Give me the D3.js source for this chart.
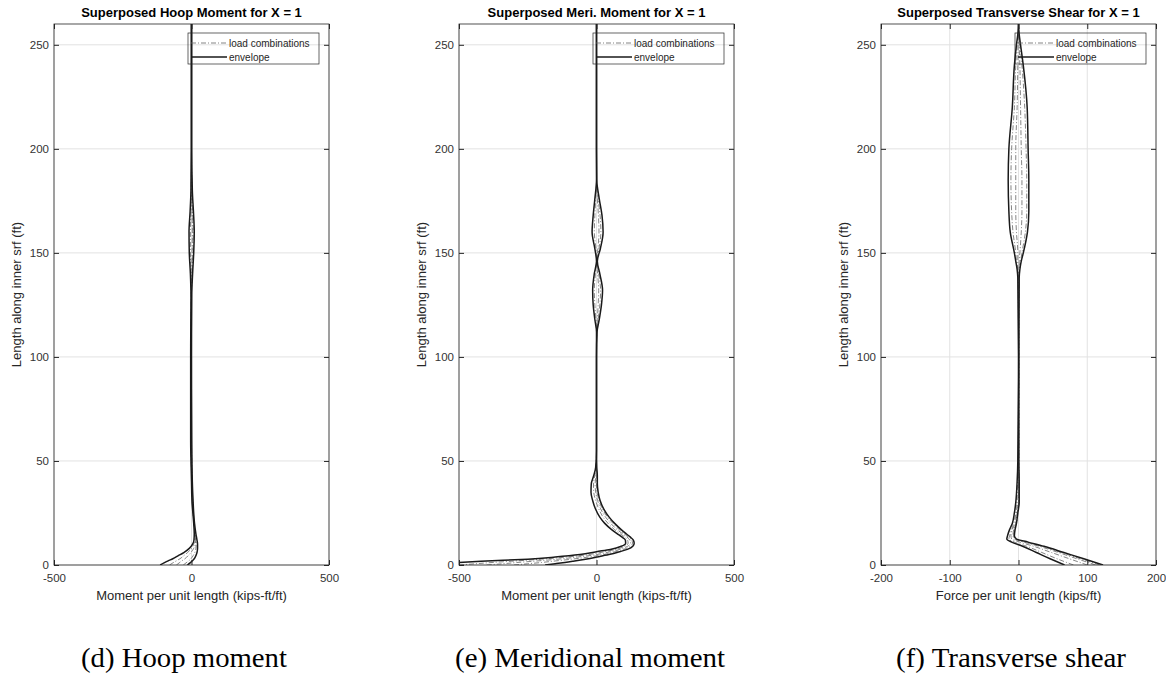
<!DOCTYPE html>
<html>
<head>
<meta charset="utf-8">
<script src="https://cdn.jsdelivr.net/npm/d3@7"></script>
<style>
  body { margin: 0; background: #fff; }
  svg { display: block; }
  .tick text { font-family: "Liberation Sans", Arial, sans-serif; font-size: 11.5px; fill: #333; }
</style>
</head>
<body>
<div></div>
<script>
const width = 1166;
const height = 674;

// heights along inner surface (ft) and values for each curve
const hoopLen = [0, 1, 2, 3, 4.5, 6, 8, 10, 12, 15, 20, 25, 30, 40, 60, 100, 130, 140, 150, 160, 170, 180, 200, 260];
const hoopEnvMin = [-114, -100, -85, -68, -48, -28, -8, 4, 9, 10, 8, 5, 2, 0, -3, -3, -2, -4, -8, -9, -5, -2, -1, -1];
const hoopEnvMax = [-15, -5, 3, 10, 16, 20, 22, 22, 20, 16, 11, 8, 6, 3, 1, 0, 1, 4, 8, 10, 7, 3, 1, 1];
const hoopCombo1 = [-80, -68, -55, -42, -28, -14, 0, 8, 12, 12, 9, 6, 3, 1, -2, -2, -1, -2, -4, -4, -2, -1, 0, 0];
const hoopCombo2 = [-55, -45, -35, -24, -12, -2, 8, 14, 15, 13, 9, 6, 4, 2, 0, -1, 0, 1, 2, 3, 2, 1, 0, 0];
const hoopCombo3 = [-30, -20, -10, -2, 6, 12, 16, 17, 16, 13, 10, 7, 5, 2, 0, 0, 0, 2, 5, 6, 4, 2, 0, 0];

const meriLen = [0, 0.6, 1.2, 1.8, 2.8, 3.8, 5, 6.4, 7.5, 9, 10.5, 12, 13.5, 15, 17, 20, 23, 27, 31, 35, 39, 43, 47, 55, 100, 112, 118, 125, 132, 140, 146, 152, 160, 168, 176, 185, 200, 260];
const meriEnvMin = [-620, -560, -500, -420, -250, -150, -60, 0, 50, 90, 106, 105, 92, 76, 55, 30, 12, -4, -14, -20, -19, -10, -3, 0, 0, 0, -6, -12, -14, -8, 0, -6, -16, -12, -6, 0, 0, 0];
const meriEnvMax = [-187, -150, -115, -85, -40, 0, 45, 85, 112, 132, 137, 134, 122, 108, 90, 66, 46, 26, 13, 6, 3, 3, 1, 0, 0, 2, 10, 18, 22, 12, 3, 14, 24, 20, 10, 1, 0, 0];
const meriCombo1 = [-500, -440, -380, -310, -200, -110, -30, 30, 70, 103, 115, 113, 102, 86, 66, 42, 24, 8, -3, -10, -11, -6, -2, 0, 0, 0, -2, -6, -8, -4, 0, -2, -8, -6, -3, 0, 0, 0];
const meriCombo2 = [-400, -340, -290, -230, -140, -70, 0, 50, 85, 113, 124, 121, 110, 95, 75, 52, 33, 15, 4, -3, -5, -2, 0, 0, 0, 1, 3, 6, 8, 4, 1, 5, 9, 7, 3, 0, 0, 0];
const meriCombo3 = [-300, -250, -200, -160, -90, -30, 25, 68, 98, 123, 131, 128, 116, 101, 83, 60, 40, 21, 9, 2, 0, 1, 0, 0, 0, 1, 6, 12, 15, 8, 2, 9, 16, 13, 6, 0, 0, 0];

const shearLen = [0, 3, 6, 9, 11, 12.5, 14, 17, 20, 25, 30, 40, 50, 100, 138, 142, 146, 150, 160, 170, 185, 200, 220, 240, 250, 255, 260];
const shearEnvMin = [67, 46, 26, 6, -10, -17, -16, -13, -9, -6, -4, -2, -1, 0, -1, -2, -4, -6, -12, -14, -15, -14, -9, -6, -3, -1, 0];
const shearEnvMax = [123, 95, 66, 37, 14, -3, -6, -5, -3, -1, 1, 1, 0.5, 0.5, 1, 2, 4, 7, 13, 15, 15, 14, 12.6, 7, 3, 1, 0];
const shearCombo1 = [80, 56, 34, 12, -6, -14, -13, -10, -7, -4, -3, -1.5, -0.5, 0, -0.5, -1, -3, -4, -8, -10, -11, -10, -6, -4, -2, -0.5, 0];
const shearCombo2 = [100, 74, 48, 22, 2, -10, -11, -9, -5, -3, -1, -0.5, 0, 0, 0, -0.5, -1, -1, -3, -4, -4, -4, -2, -1, -0.5, 0, 0];
const shearCombo3 = [112, 85, 58, 30, 8, -6, -8, -7, -4, -2, 0, 0.5, 0.5, 0.5, 0.5, 1, 1, 2, 4, 5, 5, 4, 3, 2, 1, 0.5, 0];
const shearCombo4 = [118, 90, 62, 34, 11, -4, -7, -6, -3, -1, 0.5, 0.5, 0.5, 0.5, 1, 1.5, 3, 5, 10, 12, 12, 11, 9, 5, 2, 0.5, 0];

const yTicks = [0, 50, 100, 150, 200, 250];
const momentTicks = [-500, 0, 500];
const shearTicks = [-200, -100, 0, 100, 200];
const legendLabels = ["load combinations", "envelope"];

const svg = d3
  .select("div")
  .append("svg")
  .attr("width", width)
  .attr("height", height);

const font = '"Liberation Sans", Arial, sans-serif';
const plotTop = 24;
const plotBottom = 565;
const plotW = 275;

function drawPanel(p, idx) {
  const x = d3.scaleLinear().domain(p.xDomain).range([p.left, p.left + plotW]);
  const y = d3.scaleLinear().domain([0, 260]).range([plotBottom, plotTop]);

  const g = svg.append("g");

  g.append("clipPath")
    .attr("id", "clip" + idx)
    .append("rect")
    .attr("x", p.left)
    .attr("y", plotTop)
    .attr("width", plotW)
    .attr("height", plotBottom - plotTop);

  // grid
  g.selectAll(".hgrid")
    .data(yTicks)
    .enter()
    .append("line")
    .attr("x1", p.left)
    .attr("x2", p.left + plotW)
    .attr("y1", (d) => y(d))
    .attr("y2", (d) => y(d))
    .attr("stroke", "#e2e2e2");
  g.selectAll(".vgrid")
    .data(p.xTicks)
    .enter()
    .append("line")
    .attr("x1", (d) => x(d))
    .attr("x2", (d) => x(d))
    .attr("y1", plotTop)
    .attr("y2", plotBottom)
    .attr("stroke", "#e2e2e2");

  // curves
  const line = d3
    .line()
    .x((d) => x(d[0]))
    .y((d) => y(d[1]))
    .curve(d3.curveMonotoneY);

  const curves = g.append("g").attr("clip-path", "url(#clip" + idx + ")");
  p.combos.forEach((c) => {
    curves
      .append("path")
      .attr("d", line(c.map((v, i) => [v, p.len[i]])))
      .attr("fill", "none")
      .attr("stroke", "#666")
      .attr("stroke-width", 0.8)
      .attr("stroke-dasharray", "5,2,1,2");
  });
  [p.envMin, p.envMax].forEach((c) => {
    curves
      .append("path")
      .attr("d", line(c.map((v, i) => [v, p.len[i]])))
      .attr("fill", "none")
      .attr("stroke", "#1a1a1a")
      .attr("stroke-width", 1.5);
  });

  // axes, ticks inside on all sides
  const fmt = (d) => d;
  g.append("g")
    .attr("transform", "translate(0," + plotBottom + ")")
    .call(d3.axisBottom(x).tickValues(p.xTicks).tickSizeInner(-5).tickSizeOuter(0).tickPadding(9).tickFormat(fmt))
    .call((a) => a.select(".domain").remove());
  g.append("g")
    .attr("transform", "translate(0," + plotTop + ")")
    .call(d3.axisTop(x).tickValues(p.xTicks).tickSizeInner(-5).tickSizeOuter(0).tickFormat(""))
    .call((a) => a.select(".domain").remove());
  g.append("g")
    .attr("transform", "translate(" + p.left + ",0)")
    .call(d3.axisLeft(y).tickValues(yTicks).tickSizeInner(-5).tickSizeOuter(0).tickPadding(5))
    .call((a) => a.select(".domain").remove());
  g.append("g")
    .attr("transform", "translate(" + (p.left + plotW) + ",0)")
    .call(d3.axisRight(y).tickValues(yTicks).tickSizeInner(-5).tickSizeOuter(0).tickFormat(""))
    .call((a) => a.select(".domain").remove());
  g.selectAll(".tick line").attr("stroke", "#262626");

  g.append("rect")
    .attr("x", p.left)
    .attr("y", plotTop)
    .attr("width", plotW)
    .attr("height", plotBottom - plotTop)
    .attr("fill", "none")
    .attr("stroke", "#262626")
    .attr("stroke-width", 0.8);

  // legend
  const lx = p.left + plotW - 141;
  const ly = 33;
  const lg = g.append("g");
  lg.append("rect")
    .attr("x", lx)
    .attr("y", ly)
    .attr("width", 131)
    .attr("height", 31)
    .attr("fill", "none")
    .attr("stroke", "#262626")
    .attr("stroke-width", 0.7);
  legendLabels.forEach((t, i) => {
    const yy = ly + 10 + i * 14;
    lg.append("line")
      .attr("x1", lx + 3)
      .attr("x2", lx + 39)
      .attr("y1", yy)
      .attr("y2", yy)
      .attr("stroke", i === 0 ? "#666" : "#1a1a1a")
      .attr("stroke-width", i === 0 ? 0.8 : 1.5)
      .attr("stroke-dasharray", i === 0 ? "5,2,1,2" : null);
    lg.append("text")
      .attr("x", lx + 41)
      .attr("y", yy + 3.5)
      .attr("font-family", font)
      .attr("font-size", 10)
      .attr("fill", "#262626")
      .text(t);
  });

  // texts
  g.append("text")
    .attr("x", p.left + plotW / 2)
    .attr("y", 17)
    .attr("text-anchor", "middle")
    .attr("font-family", font)
    .attr("font-size", 13)
    .attr("font-weight", "bold")
    .attr("fill", "#000")
    .text(p.title);
  g.append("text")
    .attr("x", p.left + plotW / 2)
    .attr("y", 600)
    .attr("text-anchor", "middle")
    .attr("font-family", font)
    .attr("font-size", 13)
    .attr("fill", "#262626")
    .text(p.xLabel);
  g.append("text")
    .attr("transform", "translate(" + (p.left - 33) + "," + (plotTop + plotBottom) / 2 + ") rotate(-90)")
    .attr("text-anchor", "middle")
    .attr("font-family", font)
    .attr("font-size", 13)
    .attr("fill", "#262626")
    .text("Length along inner srf (ft)");

  svg.append("text")
    .attr("x", p.capX)
    .attr("y", 667)
    .attr("text-anchor", "middle")
    .attr("font-family", '"Liberation Serif", "Times New Roman", serif')
    .attr("font-size", 27)
    .attr("fill", "#000")
    .attr("textLength", p.capW)
    .attr("lengthAdjust", "spacingAndGlyphs")
    .text(p.caption);
}

const panels = [
  {
    left: 54, xDomain: [-500, 500], xTicks: momentTicks, len: hoopLen,
    envMin: hoopEnvMin, envMax: hoopEnvMax, combos: [hoopCombo1, hoopCombo2, hoopCombo3],
    title: "Superposed Hoop Moment for X = 1", xLabel: "Moment per unit length (kips-ft/ft)",
    caption: "(d) Hoop moment", capX: 184, capW: 206
  },
  {
    left: 459, xDomain: [-500, 500], xTicks: momentTicks, len: meriLen,
    envMin: meriEnvMin, envMax: meriEnvMax, combos: [meriCombo1, meriCombo2, meriCombo3],
    title: "Superposed Meri. Moment for X = 1", xLabel: "Moment per unit length (kips-ft/ft)",
    caption: "(e) Meridional moment", capX: 590, capW: 270
  },
  {
    left: 881, xDomain: [-200, 200], xTicks: shearTicks, len: shearLen,
    envMin: shearEnvMin, envMax: shearEnvMax, combos: [shearCombo1, shearCombo2, shearCombo3, shearCombo4],
    title: "Superposed Transverse Shear for X = 1", xLabel: "Force per unit length (kips/ft)",
    caption: "(f) Transverse shear", capX: 1011, capW: 230
  }
];

panels.forEach((p, i) => drawPanel(p, i));
</script>
</body>
</html>
